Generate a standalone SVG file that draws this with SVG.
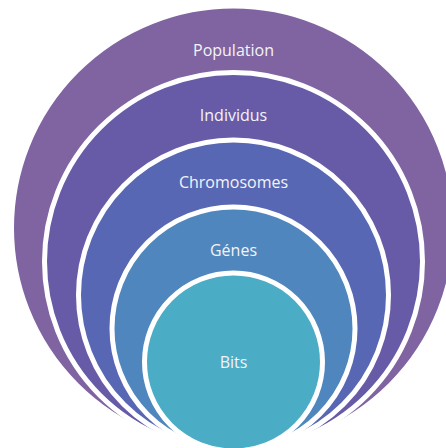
<svg xmlns="http://www.w3.org/2000/svg" width="446" height="448" viewBox="0 0 446 448">
<style>
.ring{stroke:#ffffff;stroke-width:5}
.lbl{font-family:"Open Sans","Noto Sans","Liberation Sans",sans-serif;font-size:16px;fill:#f3f3f8;text-anchor:middle}
</style>
<rect width="446" height="448" fill="#ffffff"/>
<g id="population">
<circle class="ring" cx="233.5" cy="228" r="222" fill="#8064A2"/>
<text class="lbl" x="233.5" y="55.5">Population</text>
</g>
<g id="individus">
<circle class="ring" cx="233.5" cy="261.5" r="189" fill="#675BA8"/>
<text class="lbl" x="233.5" y="121">Individus</text>
</g>
<g id="chromosomes">
<circle class="ring" cx="233.5" cy="295" r="155" fill="#5767B3"/>
<text class="lbl" x="233.5" y="188">Chromosomes</text>
</g>
<g id="genes">
<circle class="ring" cx="233.5" cy="328.5" r="121.5" fill="#4F86BD"/>
<text class="lbl" x="233.5" y="256">Génes</text>
</g>
<g id="bits">
<circle class="ring" cx="233.5" cy="362" r="89" fill="#4BACC6"/>
<text class="lbl" x="233.5" y="367.5">Bits</text>
</g>
<g id="connectors"/>
</svg>
